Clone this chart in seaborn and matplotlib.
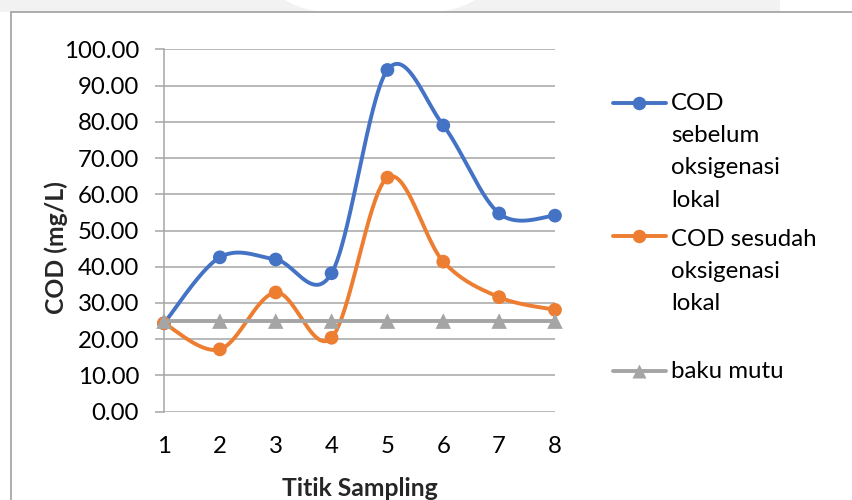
import numpy as np
import matplotlib
matplotlib.use("Agg")
import matplotlib.pyplot as plt
import seaborn as sns
from matplotlib.lines import Line2D
from matplotlib.patches import Rectangle, Ellipse

# Data
titik = [1, 2, 3, 4, 5, 6, 7, 8]
cod_sebelum = [24.4, 42.6, 42.0, 38.2, 94.3, 79.0, 54.7, 54.1]
cod_sesudah = [24.4, 17.2, 32.9, 20.4, 64.6, 41.4, 31.6, 28.1]
baku_mutu = [25, 25, 25, 25, 25, 25, 25, 25]
y_ticks = [0, 10, 20, 30, 40, 50, 60, 70, 80, 90, 100]
x_ticks = [1, 2, 3, 4, 5, 6, 7, 8]

BLUE = "#4472C4"
ORANGE = "#ED7D31"
GRAY = "#A5A5A5"
GRID = "#A6A6A6"

sns.set_theme(style="white")
plt.rcParams["font.family"] = ["Lato", "DejaVu Sans"]
plt.rcParams["text.color"] = "black"
plt.rcParams["xtick.color"] = "black"
plt.rcParams["ytick.color"] = "black"
FS = 17.3


def smooth(x, y, n=60):
    """Smoothed line through the points using cubic Bezier segments
    (Catmull-Rom style control points)."""
    x = np.asarray(x, float)
    y = np.asarray(y, float)
    px = np.concatenate([[x[0]], x, [x[-1]]])
    py = np.concatenate([[y[0]], y, [y[-1]]])
    t = np.linspace(0, 1, n)
    xs, ys = [], []
    for i in range(len(x) - 1):
        p0 = np.array([px[i], py[i]])
        p1 = np.array([px[i + 1], py[i + 1]])
        p2 = np.array([px[i + 2], py[i + 2]])
        p3 = np.array([px[i + 3], py[i + 3]])
        c1 = p1 + (p2 - p0) / 6.0
        c2 = p2 - (p3 - p1) / 6.0
        b = ((1 - t) ** 3)[:, None] * p1 + (3 * (1 - t) ** 2 * t)[:, None] * c1 \
            + (3 * (1 - t) * t ** 2)[:, None] * c2 + (t ** 3)[:, None] * p2
        if i > 0:
            b = b[1:]
        xs.append(b[:, 0])
        ys.append(b[:, 1])
    return np.concatenate(xs), np.concatenate(ys)


W, H = 853, 500
fig = plt.figure(figsize=(W / 100, H / 100), dpi=100)

# chart frame and page shading
fig.patches.append(Rectangle((0, (H - 12) / H), 780 / W, 12 / H, transform=fig.transFigure,
                             facecolor="#F2F2F2", edgecolor="none", zorder=0))
fig.patches.append(Ellipse((380 / W, (H + 8) / H), 200 / W, 50 / H, transform=fig.transFigure,
                           facecolor="white", edgecolor="none", zorder=0.5))
fig.patches.append(Rectangle((11 / W, -0.1), 1.0, (H - 12) / H + 0.1, transform=fig.transFigure,
                             facecolor="white", edgecolor="#A0A0A0", lw=1.2, zorder=1))

x0, x1 = 164, 555
y_top, y_bot = 49.3, 411.7
ax = fig.add_axes([x0 / W, (H - y_bot) / H, (x1 - x0) / W, (y_bot - y_top) / H])
ax.set_zorder(2)
ax.patch.set_alpha(0)

ax.set_xlim(1, 8)
ax.set_ylim(0, 100)
ax.set_yticks(y_ticks)
ax.set_yticklabels([f"{v:.2f}" for v in y_ticks], fontsize=FS)
ax.set_xticks(x_ticks)
ax.set_xticklabels([str(v) for v in x_ticks], fontsize=FS)
ax.grid(axis="y", color=GRID, lw=1.1)
ax.grid(axis="x", visible=False)
ax.tick_params(axis="y", length=6.5, width=1.1, color=GRID, labelcolor="black", pad=11.5, left=True)
ax.tick_params(axis="x", length=0, pad=17.5, labelcolor="black")
for s in ["top", "right", "bottom"]:
    ax.spines[s].set_visible(False)
ax.spines["left"].set_color(GRID)
ax.spines["left"].set_linewidth(1.1)

series = [
    (cod_sebelum, BLUE, "o", 98),
    (cod_sesudah, ORANGE, "o", 98),
    (baku_mutu, GRAY, "^", 125),
]
z = 3
for vals, col, mk, size in series:
    sx, sy = smooth(titik, vals)
    sns.lineplot(x=sx, y=sy, sort=False, color=col, lw=2.8, ax=ax, zorder=z,
                 clip_on=False, estimator=None)
    sns.scatterplot(x=titik, y=vals, color=col, marker=mk, s=size, edgecolor="none",
                    ax=ax, zorder=z + 1, clip_on=False)
    z += 2

ax.set_xlabel("Titik Sampling", fontsize=FS + 0.5, fontweight="bold", va="center")
ax.set_ylabel("COD (mg/L)", fontsize=FS + 0.5, fontweight="bold", va="center")
ax.xaxis.set_label_coords(0.5, (y_bot - 488) / (y_bot - y_top))
ax.yaxis.set_label_coords((56 - x0) / (x1 - x0), (y_bot - 248) / (y_bot - y_top))

# legend
legend_items = [
    (BLUE, "o", 9.7, 102.7, ["COD", "sebelum", "oksigenasi", "lokal"], 109.5),
    (ORANGE, "o", 9.7, 236.0, ["COD sesudah", "oksigenasi", "lokal"], 245.5),
    (GRAY, "^", 10.7, 371.0, ["baku mutu"], 378.0),
]
pitch = 32.5
for col, mk, ms, ly, lines, base in legend_items:
    fig.add_artist(Line2D([612.7 / W, 666 / W], [(H - ly) / H] * 2, transform=fig.transFigure,
                          color=col, lw=2.8, zorder=3))
    fig.add_artist(Line2D([639.5 / W], [(H - ly) / H], transform=fig.transFigure,
                          color=col, marker=mk, ms=ms, mec="none", lw=0, zorder=4))
    for k, txt in enumerate(lines):
        fig.text(671 / W, (H - (base + k * pitch)) / H, txt, fontsize=FS,
                 ha="left", va="baseline", zorder=5)

fig.savefig("out.png", dpi=100)
